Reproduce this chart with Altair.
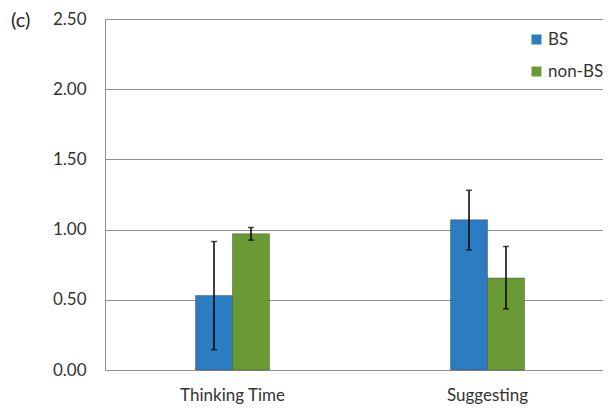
import altair as alt
import pandas as pd

categories = ["Thinking Time", "Suggesting"]
groups = ["BS", "non-BS"]
bs_mean = [0.53, 1.07]
bs_lo = [0.145, 0.855]
bs_hi = [0.915, 1.28]
non_mean = [0.97, 0.655]
non_lo = [0.925, 0.435]
non_hi = [1.015, 0.88]
colors = ["#2c7cc1", "#6a9a34"]
y_ticks = [0, 0.5, 1.0, 1.5, 2.0, 2.5]

rows = []
for i, c in enumerate(categories):
    rows.append({"cat": c, "grp": groups[0], "val": bs_mean[i], "lo": bs_lo[i], "hi": bs_hi[i]})
    rows.append({"cat": c, "grp": groups[1], "val": non_mean[i], "lo": non_lo[i], "hi": non_hi[i]})
df = pd.DataFrame(rows)

FONT = "Lato"

x_scale = alt.Scale(domain=categories, range=[0, 510], paddingInner=0.71, paddingOuter=0.355)
xo_scale = alt.Scale(domain=groups, paddingInner=0, paddingOuter=0)

x_enc = alt.X("cat:N", sort=categories, scale=x_scale,
              axis=alt.Axis(title=None, labelAngle=0, ticks=False, domain=False,
                            labelPadding=17, labelFontSize=17, labelFont=FONT,
                            labelColor="#333333"))
xo_enc = alt.XOffset("grp:N", sort=groups, scale=xo_scale)
y_enc = alt.Y("val:Q", scale=alt.Scale(domain=[0, 2.5], nice=False),
              axis=alt.Axis(title=None, values=y_ticks, format=".2f", ticks=False,
                            domain=True, domainColor="#8f8f8f", domainWidth=1,
                            grid=True, gridColor="#8f8f8f", gridWidth=1,
                            labelPadding=19, labelFontSize=17, labelFont=FONT,
                            labelColor="#333333"))

base = alt.Chart(df)

bars = base.mark_bar(stroke="#3a3a3a", strokeWidth=0.6, strokeOpacity=0.7).encode(
    x=x_enc,
    xOffset=xo_enc,
    y=y_enc,
    color=alt.Color("grp:N", sort=groups,
                    scale=alt.Scale(domain=groups, range=colors),
                    legend=alt.Legend(title=None, orient="none", legendX=423, legendY=12,
                                      symbolType="square", symbolSize=100,
                                      symbolStrokeWidth=0, labelFontSize=17,
                                      labelFont=FONT, labelColor="#333333",
                                      rowPadding=14, padding=0, labelOffset=3)),
)

x_plain = alt.X("cat:N", sort=categories, scale=x_scale)
err = base.mark_rule(color="black", strokeWidth=1.5).encode(
    x=x_plain, xOffset=xo_enc, y="lo:Q", y2="hi:Q"
)
cap_lo = base.mark_tick(color="black", size=6, thickness=1.5).encode(
    x=x_plain, xOffset=xo_enc, y="lo:Q"
)
cap_hi = base.mark_tick(color="black", size=6, thickness=1.5).encode(
    x=x_plain, xOffset=xo_enc, y="hi:Q"
)

label = alt.Chart(pd.DataFrame({"t": ["(c)"]})).mark_text(
    align="left", baseline="middle", fontSize=20, font=FONT, color="#222222"
).encode(x=alt.value(-94), y=alt.value(2), text="t:N")

chart = alt.layer(bars, err, cap_lo, cap_hi, label).properties(
    width=498, height=351,
    autosize=alt.AutoSizeParams(type="none"),
    padding={"left": 97, "top": 11, "right": 0, "bottom": 37},
).configure_view(stroke=None).configure(background="white")

chart.save("out.html", embed_options={"renderer": "svg", "actions": False})
